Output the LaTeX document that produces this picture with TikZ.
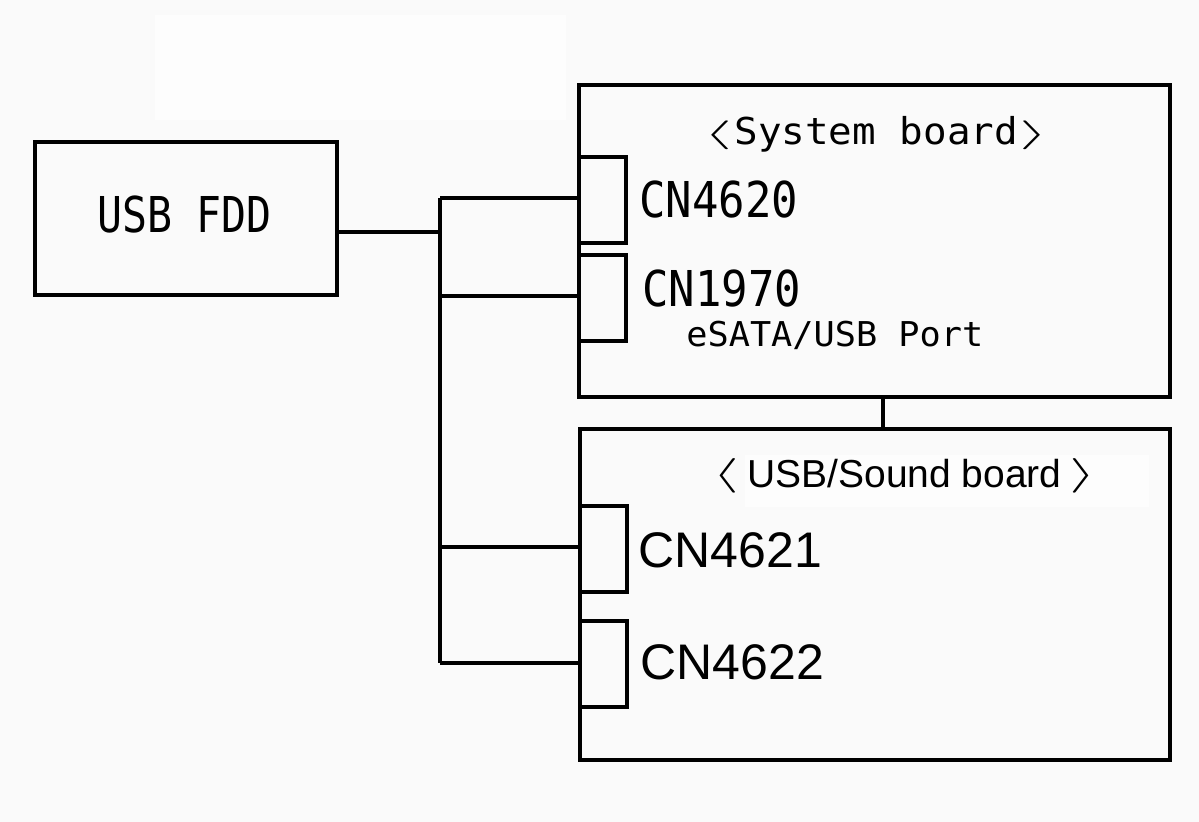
\documentclass[tikz,border=0pt]{standalone}
\usepackage{fontspec}
\setmainfont{Liberation Sans}
\newfontfamily\gothic{DejaVu Sans Mono}
\definecolor{bgc}{RGB}{250,250,250}
\definecolor{patch}{RGB}{253,253,253}
\begin{document}
\begin{tikzpicture}[x=0.5pt,y=-0.5pt,
  box/.style={draw=black, line width=1.9pt, inner sep=0pt},
  wire/.style={line width=1.7pt},
  lbl/.style={inner sep=0pt, anchor=base west},
  big/.style={font=\gothic\fontsize{24.7pt}{28pt}\selectfont},
  arial/.style={font=\fontsize{25pt}{28pt}\selectfont}]
\useasboundingbox (0,0) rectangle (1199,822);
\fill[bgc] (0,0) rectangle (1199,822);
\fill[patch] (155,15) rectangle (566,120);
\fill[patch] (745,455) rectangle (1149,507);
% boxes
\node[box, minimum width=151pt, minimum height=76.5pt] (fdd) at (186,218.5) {};
\node[box, minimum width=295.5pt, minimum height=156pt] (sys) at (874.5,241) {};
\node[box, minimum width=295pt, minimum height=165.5pt] (snd) at (875,594.5) {};
\node[box, minimum width=23.5pt, minimum height=43pt] (c1) at (602.5,200) {};
\node[box, minimum width=23.5pt, minimum height=43pt] (c2) at (602.5,298) {};
\node[box, minimum width=23.5pt, minimum height=43pt] (c3) at (603.5,549) {};
\node[box, minimum width=23.5pt, minimum height=43pt] (c4) at (603.5,664) {};
% labels
\node[big, inner sep=0pt, anchor=base] (fddt) at (184.5,233) {\scalebox{0.84}[1]{USB FDD}};
\node[big, lbl] (c1t) at (639,218) {\scalebox{0.89}[1]{CN4620}};
\node[big, lbl] (c2t) at (642,307) {\scalebox{0.89}[1]{CN1970}};
\node[lbl, font=\gothic\fontsize{17.1pt}{20pt}\selectfont] (est) at (686,347) {\scalebox{1.03}[1]{eSATA/USB Port}};
\node[lbl, font=\gothic\fontsize{18.5pt}{22pt}\selectfont] (syst) at (703,145)
  {\raisebox{1pt}{\fontsize{14pt}{14pt}\selectfont\scalebox{2.6}[1]{$\langle$}}\hspace{1pt}\scalebox{1.06}[1]{System board}\hspace{1pt}\raisebox{1pt}{\fontsize{14pt}{14pt}\selectfont\scalebox{2.6}[1]{$\rangle$}}};
\node[lbl, font=\fontsize{19.5pt}{22pt}\selectfont] (sndt) at (712,488)
  {\raisebox{1.5pt}{\fontsize{16.5pt}{16.5pt}\selectfont\scalebox{2}[1]{$\langle$}}\hspace{4pt}USB/Sound board\hspace{4pt}\raisebox{1.5pt}{\fontsize{16.5pt}{16.5pt}\selectfont\scalebox{2}[1]{$\rangle$}}};
\node[arial, lbl] (c3t) at (638,568) {CN4621};
\node[arial, lbl] (c4t) at (640,680) {CN4622};
% wiring
\coordinate (jf) at (440,232);
\coordinate (j1) at (440,198);
\coordinate (j2) at (440,296);
\coordinate (j3) at (440,547);
\coordinate (j4) at (440,663);
\coordinate (lk) at (883,0);
\draw[wire] (fdd.east |- jf) -- (jf);
\draw[wire] (j1) -- (j4);
\draw[wire] (j1) -- (j1 -| c1.west);
\draw[wire] (j2) -- (j2 -| c2.west);
\draw[wire] (j3) -- (j3 -| c3.west);
\draw[wire] (j4) -- (j4 -| c4.west);
\draw[wire] (sys.south -| lk) -- (snd.north -| lk);
\end{tikzpicture}
\end{document}
